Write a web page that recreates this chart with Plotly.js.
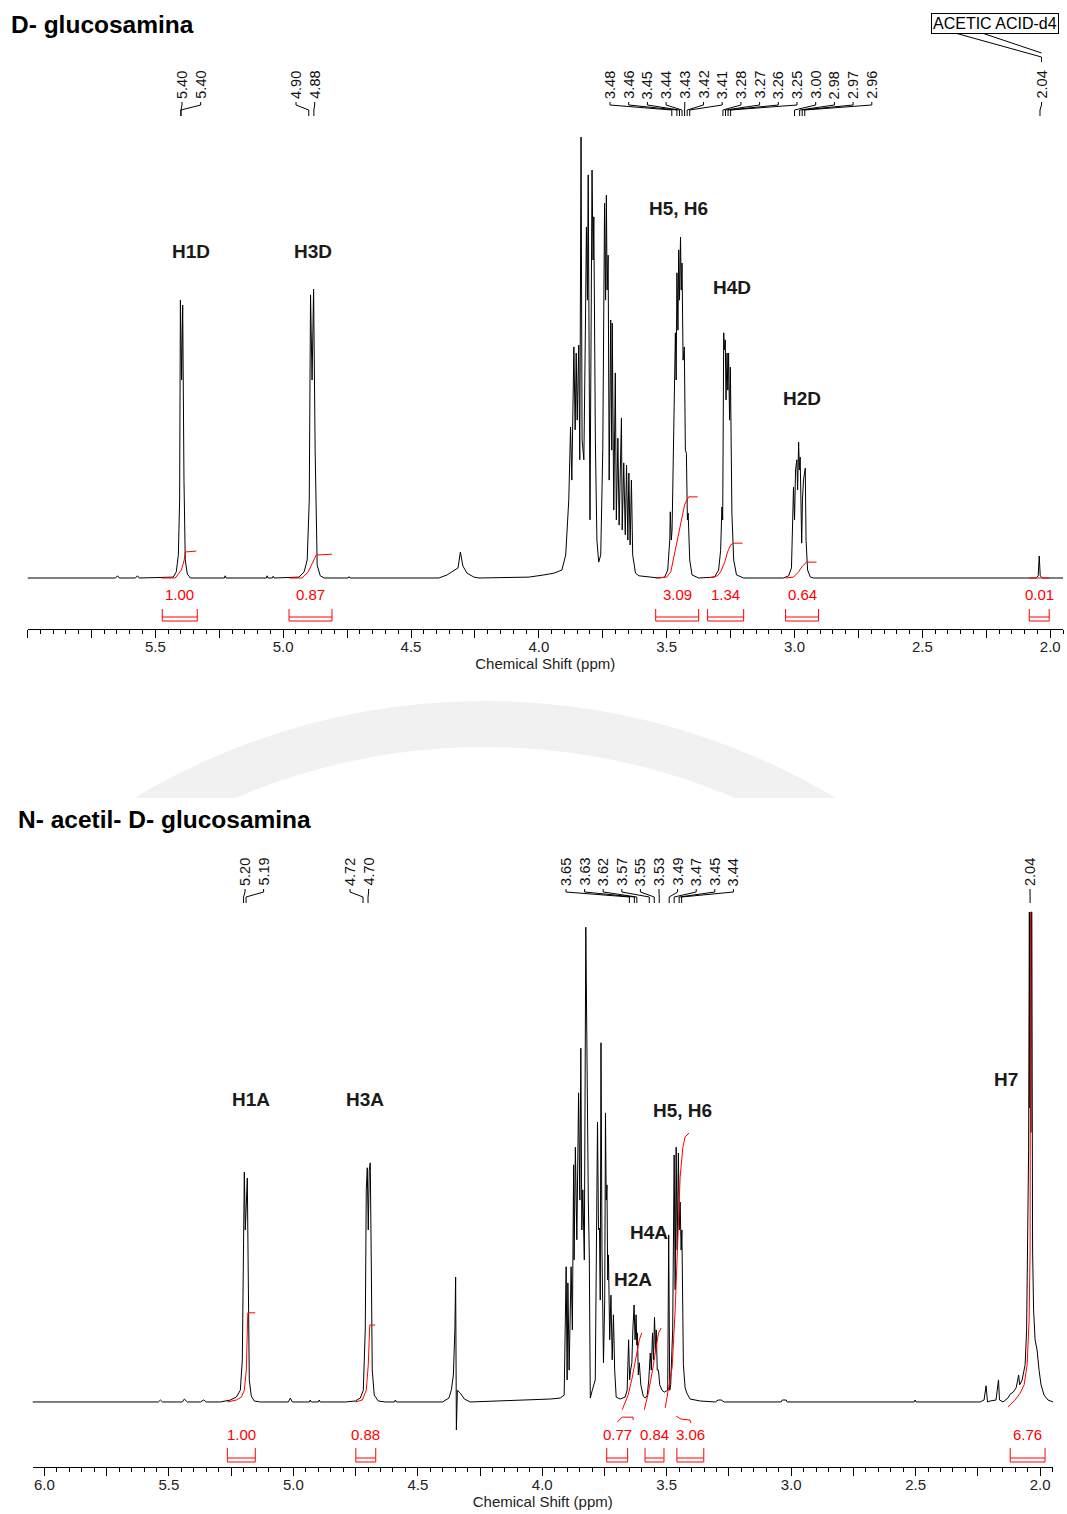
<!DOCTYPE html>
<html><head><meta charset="utf-8">
<script src="https://cdn.plot.ly/plotly-3.0.1.min.js"></script>
<style>html,body{margin:0;padding:0;background:#fff}#chart{width:1067px;height:1514px}</style>
</head><body><div id="chart"></div>
<script>
// ---------------- DATA (ppm, relative intensity %) ----------------
const TOP_TITLE = 'D- glucosamina';
const BOT_TITLE = 'N- acetil- D- glucosamina';

const TOP_SPECTRUM = [
[6.00,0],[5.656,0],[5.648,0.5],[5.641,0],[5.578,0],[5.570,0.5],[5.563,0],
[5.430,0.2],[5.418,1.4],[5.410,5.2],[5.405,17.7],[5.402,63.0],[5.397,44.9],[5.393,61.9],[5.388,22.2],[5.383,4.1],[5.375,0.9],[5.363,0],
[5.230,0],[5.227,0.5],[5.223,0],[5.066,0],[5.063,0.5],[5.059,0],[5.043,0],[5.039,0.4],[5.035,0],
[4.938,0.2],[4.918,1.4],[4.906,4.1],[4.898,17.7],[4.893,64.2],[4.887,44.9],[4.881,65.5],[4.875,29.0],[4.867,2.9],[4.855,0.5],[4.840,0],
[4.746,0],[4.742,0.3],[4.738,0],
[4.391,0],[4.359,0.7],[4.332,1.6],[4.316,2.3],[4.307,5.9],[4.297,2.7],[4.281,1.1],[4.254,0.2],[4.234,0],
[4.039,0.2],[3.980,0.7],[3.941,1.1],[3.910,1.8],[3.895,5.2],[3.883,17.7],
[3.876,34.2],[3.871,22.2],[3.863,52.4],[3.858,33.6],[3.854,51.0],[3.850,35.8],[3.844,52.8],[3.840,26.8],[3.835,100],[3.831,31.3],[3.824,26.8],[3.818,56.2],[3.814,79.6],[3.810,63.0],[3.807,91.4],[3.800,13.2],[3.792,92.5],[3.788,72.1],[3.785,81.9],[3.779,31.3],[3.773,8.6],[3.766,3.6],[3.758,5.2],[3.750,29.0],[3.743,85.0],[3.739,63.0],[3.736,86.8],[3.733,65.3],[3.729,73.2],[3.725,22.2],[3.719,58.5],[3.715,29.0],[3.713,57.8],[3.707,15.4],[3.701,46.5],[3.697,13.2],[3.691,31.7],[3.686,12.0],[3.677,36.3],[3.674,10.9],[3.668,26.1],[3.662,9.8],[3.657,25.6],[3.652,8.6],[3.648,23.8],[3.643,7.5],[3.638,22.2],[3.633,5.2],[3.622,1.1],[3.609,0.5],[3.570,0.2],[3.531,0],
[3.508,0.2],[3.496,1.8],[3.488,8.6],[3.486,15.0],[3.482,8.6],[3.479,10.9],[3.475,24.5],[3.471,40.4],[3.466,55.6],[3.463,44.9],[3.460,69.2],[3.456,56.2],[3.453,74.4],[3.450,63.0],[3.446,77.3],[3.443,65.3],[3.440,71.4],[3.436,49.4],[3.431,52.4],[3.427,29.0],[3.423,28.3],[3.419,13.2],[3.416,14.7],[3.410,4.1],[3.401,0.7],[3.375,0],
[3.313,0.2],[3.297,1.8],[3.289,6.3],[3.284,16.1],[3.281,13.2],[3.277,55.6],[3.274,51.7],[3.271,54.0],[3.268,40.4],[3.264,51.0],[3.261,42.6],[3.258,51.0],[3.254,35.8],[3.251,47.8],[3.248,24.5],[3.245,14.7],[3.238,4.1],[3.227,0.7],[3.199,0],
[3.043,0],[3.023,0.5],[3.012,2.3],[3.004,20.6],[3.000,13.2],[2.996,24.5],[2.991,26.8],[2.988,20.0],[2.984,30.8],[2.981,24.5],[2.978,27.4],[2.975,17.7],[2.972,7.9],[2.969,17.7],[2.965,22.2],[2.958,24.9],[2.955,8.6],[2.949,1.8],[2.938,0.2],[2.926,0],
[2.055,0],[2.047,0.5],[2.043,5.0],[2.039,0.5],[2.031,0],[1.95,0]
];

const BOT_SPECTRUM = [
[6.048,0],[5.542,0],[5.534,0.4],[5.526,0],[5.446,0],[5.438,0.6],[5.426,0],[5.373,0],[5.361,0.4],[5.349,0],[5.293,0],
[5.253,0.4],[5.229,1.0],[5.213,2.4],[5.205,8.6],[5.201,31.0],[5.197,46.9],[5.193,35.1],[5.189,43.3],[5.185,45.7],[5.181,24.9],[5.177,4.5],[5.169,1.2],[5.157,0.2],[5.133,0],
[5.020,0],[5.012,0.8],[5.004,0],[4.936,0],[4.932,0.4],[4.928,0],[4.900,0],[4.896,0.4],[4.892,0],
[4.791,0],[4.751,0.2],[4.731,0.8],[4.719,2.4],[4.711,14.7],[4.707,43.3],[4.703,47.8],[4.699,35.1],[4.695,47.3],[4.691,48.8],[4.687,29.0],[4.683,6.5],[4.675,1.4],[4.659,0.2],[4.631,0],
[4.594,0],[4.590,0.4],[4.586,0],
[4.400,0],[4.375,0.8],[4.365,2.5],[4.357,5.5],[4.351,14.7],[4.348,25.5],[4.345,-5.7],[4.341,2.4],[4.329,1.8],[4.313,0.6],[4.289,0],
[4.169,0.2],[4.048,0.4],[3.968,0.6],[3.928,0.8],
[3.912,1.4],[3.904,27.6],[3.900,4.5],[3.897,24.3],[3.892,6.5],[3.884,27.6],[3.879,14.7],[3.874,48.4],[3.872,29.0],[3.867,52.0],[3.861,33.1],[3.854,63.1],[3.849,41.2],[3.845,72.2],[3.841,35.1],[3.837,43.3],[3.831,29.0],[3.825,96.9],[3.823,82.0],[3.821,87.1],[3.815,41.2],[3.811,30.0],
[3.807,0.8],[3.799,2.4],[3.787,4.5],[3.778,57.1],[3.774,35.1],[3.770,35.5],[3.767,20.8],[3.764,73.3],[3.760,31.0],[3.754,8.0],[3.749,20.8],[3.746,59.0],[3.743,41.2],[3.740,44.3],[3.737,24.9],[3.734,30.0],[3.729,12.7],[3.724,21.8],[3.719,8.6],[3.714,17.8],[3.709,6.5],[3.703,1.0],[3.687,0.6],[3.667,1.0],
[3.659,2.4],[3.653,12.7],[3.649,4.5],[3.645,6.5],[3.640,8.0],[3.636,14.7],[3.631,19.8],[3.627,12.7],[3.623,17.8],[3.620,11.6],[3.618,14.1],[3.614,5.5],[3.610,8.0],[3.604,3.5],[3.594,1.2],[3.586,0.8],
[3.578,1.4],[3.572,4.5],[3.566,10.0],[3.562,6.5],[3.557,14.1],[3.553,8.6],[3.549,17.3],[3.545,10.6],[3.542,14.7],[3.538,6.5],[3.533,6.5],[3.528,3.5],[3.519,2.4],[3.510,2.0],
[3.496,2.4],[3.492,34.1],[3.488,2.4],
[3.484,3.5],[3.479,10.6],[3.476,14.7],[3.470,50.4],[3.466,22.9],[3.462,52.0],[3.458,31.0],[3.453,50.8],[3.449,35.1],[3.446,40.8],[3.442,31.0],[3.439,35.1],[3.436,16.7],[3.433,7.6],[3.426,2.9],[3.419,1.8],[3.406,0.6],[3.365,0.2],[3.305,0],[3.293,0.4],[3.281,0.4],[3.269,0],
[3.040,0],[3.036,0.4],[3.020,0.4],[3.016,0],
[2.506,0],[2.502,0.4],[2.498,0],
[2.241,0],[2.225,0.4],[2.217,3.3],[2.211,0],[2.201,0.2],[2.177,0.4],[2.167,4.5],[2.163,0.4],[2.149,0],[2.129,0.8],[2.120,1.6],[2.108,2.0],[2.096,2.9],[2.086,5.5],[2.082,3.5],[2.072,4.5],[2.060,7.6],[2.054,14.7],[2.049,32.0],[2.046,51.4],
[2.043,100],[2.041,60],[2.039,99],[2.037,55],[2.035,100],[2.033,100],[2.030,31.0],[2.026,18.8],[2.020,12.7],[2.012,10.6],[2.004,6.5],[1.996,3.5],[1.984,1.4],[1.968,0.4],[1.948,0]
];

// integral curves (ppm, relative intensity)
const TOP_INTEGRAL_CURVES = [
[[5.477,0],[5.422,0],[5.398,1.8],[5.387,4.1],[5.383,5.9],[5.340,6.1]],
[[4.977,0],[4.926,0],[4.902,1.4],[4.883,3.6],[4.871,5.2],[4.809,5.4]],
[[3.543,0],[3.500,0.2],[3.484,1.4],[3.466,6.3],[3.453,9.8],[3.440,13.8],[3.430,16.6],[3.421,17.7],[3.414,18.4],[3.379,18.4]],
[[3.336,0],[3.301,0.5],[3.289,1.4],[3.273,3.6],[3.262,5.9],[3.250,7.5],[3.238,7.9],[3.203,7.9]],
[[3.035,0],[3.004,0.2],[2.984,1.4],[2.969,2.7],[2.953,3.6],[2.914,3.6]],
[[2.082,0],[2.004,0]]
];
const BOT_INTEGRAL_CURVES = [
[[5.265,0],[5.229,0.4],[5.209,1.0],[5.197,2.4],[5.189,6.5],[5.185,12.7],[5.183,18.2],[5.153,18.2]],
[[4.751,0],[4.723,0.4],[4.707,2.4],[4.699,7.6],[4.693,15.7],[4.671,15.7]],
[[3.679,-1.6],[3.655,1.4],[3.639,4.9],[3.623,9.0],[3.610,12.7],[3.600,14.1]],
[[3.590,-1.6],[3.574,1.8],[3.557,6.5],[3.542,11.6],[3.533,14.1],[3.522,15.1]],
[[3.506,-1.2],[3.490,3.5],[3.478,7.1],[3.466,18.8],[3.453,34.5],[3.446,45.9],[3.435,52.0],[3.426,54.1],[3.410,54.9]],
[[2.129,-1.0],[2.100,0.4],[2.080,1.8],[2.064,3.5],[2.052,7.6],[2.044,16.7],[2.040,31.0],[2.038,100]],
[[3.699,-4.1],[3.679,-3.1],[3.635,-3.1],[3.635,-3.7]],
[[3.462,-2.9],[3.442,-3.5],[3.406,-3.7],[3.402,-4.3]]
];

// integral regions
const TOP_INT_START = [5.473, 4.977, 3.543, 3.340, 3.035, 2.082];
const TOP_INT_END   = [5.336, 4.809, 3.375, 3.199, 2.906, 2.004];
const TOP_INT_VALUE = ['1.00', '0.87', '3.09', '1.34', '0.64', '0.01'];
const BOT_INT_START = [5.265, 4.749, 3.741, 3.587, 3.459, 2.120];
const BOT_INT_END   = [5.153, 4.669, 3.657, 3.511, 3.351, 1.980];
const BOT_INT_VALUE = ['1.00', '0.88', '0.77', '0.84', '3.06', '6.76'];

// picked peaks (labels)
const TOP_PEAK_GROUPS = [[5.40,5.40],[4.90,4.88],[3.48,3.46,3.45,3.44,3.43,3.42,3.41,3.28,3.27,3.26,3.25,3.00,2.98,2.97,2.96],[2.04]];
const BOT_PEAK_GROUPS = [[5.20,5.19],[4.72,4.70],[3.65,3.63,3.62,3.57,3.55,3.53,3.49,3.47,3.45,3.44],[2.04]];

// assignments
const TOP_ASSIGN_TEXT = ['H1D','H3D','H5, H6','H4D','H2D'];
const TOP_ASSIGN_PPM  = [5.359, 4.883, 3.453, 3.246, 2.969];
const TOP_ASSIGN_INT  = [74.1, 74.1, 83.7, 65.8, 40.8];
const BOT_ASSIGN_TEXT = ['H1A','H3A','H5, H6','H4A','H2A','H7'];
const BOT_ASSIGN_PPM  = [5.169, 4.711, 3.438, 3.570, 3.635, 2.137];
const BOT_ASSIGN_INT  = [61.8, 61.8, 59.4, 34.5, 24.9, 65.9];

const TICK_VALS = [2.0,2.25,2.5,2.75,3.0,3.25,3.5,3.75,4.0,4.25,4.5,4.75,5.0,5.25,5.5,5.75,6.0];
const TOP_TICK_TEXT = ['2.0','','2.5','','3.0','','3.5','','4.0','','4.5','','5.0','','5.5','',''];
const BOT_TICK_TEXT = ['2.0','','2.5','','3.0','','3.5','','4.0','','4.5','','5.0','','5.5','','6.0'];

// ---------------- LAYOUT ----------------
const W = 1067, H = 1514;
const FONT = 'Liberation Sans, Arial, sans-serif';
const py = p => 1 - p / H;
const px = p => p / W;

const PANELS = {
  top: { xPx:[27.5,1063], xRange:[6.0,1.95], yPx:[60,629], yRange:[-11.565,117.46],
         labelFirstPx:[182,296,610,1041.5], labelStep:18.7,
         lblBottom:101, con:[102,105,110,116], intNum:595, br:[609,617,621] },
  bot: { xPx:[32.5,1053], xRange:[6.048,1.948], yPx:[850,1467], yRange:[-13.27,112.65],
         labelFirstPx:[245,350,566,1030], labelStep:18.6,
         lblBottom:888, con:[889,892,897,903], intNum:1434, br:[1448,1458,1462] }
};
function pxToPpm(P, p) {
  return P.xRange[0] - (p - P.xPx[0]) / (P.xPx[1] - P.xPx[0]) * (P.xRange[0] - P.xRange[1]);
}

const traces = [];
function addLine(pairs, xa, ya, color) {
  traces.push({ x: pairs.map(p => p[0]), y: pairs.map(p => p[1]), xaxis: xa, yaxis: ya,
    type: 'scatter', mode: 'lines', line: { color: color, width: 1 }, hoverinfo: 'skip', showlegend: false });
}
addLine(TOP_SPECTRUM, 'x', 'y', '#000');
addLine(BOT_SPECTRUM, 'x2', 'y2', '#000');
TOP_INTEGRAL_CURVES.forEach(c => addLine(c, 'x', 'y', '#ff0000'));
BOT_INTEGRAL_CURVES.forEach(c => addLine(c, 'x2', 'y2', '#ff0000'));

const annotations = [];
const shapes = [];

// faint watermark seal between the panels (decorative)
shapes.push({ type: 'circle', xref: 'paper', yref: 'paper', layer: 'below',
  x0: px(485 - 660), x1: px(485 + 660), y0: py(1384 + 660), y1: py(1384 - 660),
  line: { color: '#f1f1f1', width: 46 } });
shapes.push({ type: 'circle', xref: 'paper', yref: 'paper', layer: 'below',
  x0: px(485 - 570), x1: px(485 + 570), y0: py(1384 + 570), y1: py(1384 - 570),
  line: { color: '#f4f4f4', width: 18 } });
shapes.push({ type: 'rect', xref: 'paper', yref: 'paper', layer: 'below',
  x0: 0, x1: 1, y0: 0, y1: py(798), line: { width: 0 }, fillcolor: '#fff' });

function panelDecor(P, xref, yref, groups, intS, intE, intV, aText, aPpm, aInt) {
  groups.forEach((g, gi) => {
    g.forEach((v, i) => {
      const lp = pxToPpm(P, P.labelFirstPx[gi] + i * P.labelStep);
      annotations.push({ xref: xref, yref: 'paper', x: lp, y: py(P.lblBottom), text: v.toFixed(2),
        textangle: -90, showarrow: false, xanchor: 'center', yanchor: 'bottom',
        font: { family: FONT, size: 14.5, color: '#111' } });
      const c = P.con;
      shapes.push({ type: 'path', xref: xref, yref: 'paper',
        path: `M ${lp},${py(c[0])} L ${lp},${py(c[1])} L ${v},${py(c[2])} L ${v},${py(c[3])}`,
        line: { color: '#000', width: 1 } });
    });
  });
  intS.forEach((s, i) => {
    const e = intE[i], b = P.br;
    shapes.push({ type: 'path', xref: xref, yref: 'paper',
      path: `M ${s},${py(b[0])} L ${s},${py(b[2])} L ${e},${py(b[2])} L ${e},${py(b[0])}`,
      line: { color: '#ff0000', width: 1 } });
    shapes.push({ type: 'line', xref: xref, yref: 'paper', x0: s, x1: e, y0: py(b[1]), y1: py(b[1]),
      line: { color: '#ff0000', width: 1 } });
    annotations.push({ xref: xref, yref: 'paper', x: (s + e) / 2, y: py(P.intNum), text: intV[i],
      showarrow: false, xanchor: 'center', yanchor: 'middle',
      font: { family: FONT, size: 15, color: '#ff0000' } });
  });
  aText.forEach((t, i) => {
    annotations.push({ xref: xref, yref: yref, x: aPpm[i], y: aInt[i], text: '<b>' + t + '</b>',
      showarrow: false, xanchor: 'center', yanchor: 'middle',
      font: { family: FONT, size: 19, color: '#1a1a1a' } });
  });
}
panelDecor(PANELS.top, 'x', 'y', TOP_PEAK_GROUPS, TOP_INT_START, TOP_INT_END, TOP_INT_VALUE, TOP_ASSIGN_TEXT, TOP_ASSIGN_PPM, TOP_ASSIGN_INT);
panelDecor(PANELS.bot, 'x2', 'y2', BOT_PEAK_GROUPS, BOT_INT_START, BOT_INT_END, BOT_INT_VALUE, BOT_ASSIGN_TEXT, BOT_ASSIGN_PPM, BOT_ASSIGN_INT);

annotations.push({ xref: 'paper', yref: 'paper', x: px(9), y: py(25), text: '<b>' + TOP_TITLE + '</b>',
  showarrow: false, xanchor: 'left', yanchor: 'middle', font: { family: FONT, size: 24.5, color: '#000' } });
annotations.push({ xref: 'paper', yref: 'paper', x: px(16), y: py(820), text: '<b>' + BOT_TITLE + '</b>',
  showarrow: false, xanchor: 'left', yanchor: 'middle', font: { family: FONT, size: 24.5, color: '#000' } });

annotations.push({ xref: 'paper', yref: 'paper', x: px(994.5), y: py(23), text: 'ACETIC ACID-d4',
  showarrow: false, xanchor: 'center', yanchor: 'middle', bordercolor: '#000', borderwidth: 1, borderpad: 1,
  bgcolor: '#fff', font: { family: FONT, size: 16, color: '#000' } });
shapes.push({ type: 'path', xref: 'paper', yref: 'paper',
  path: `M ${px(955)},${py(33)} L ${px(1041.5)},${py(57)} L ${px(1041.5)},${py(62)}`, line: { color: '#000', width: 1 } });
shapes.push({ type: 'path', xref: 'paper', yref: 'paper',
  path: `M ${px(982)},${py(33)} L ${px(1041.5)},${py(53)}`, line: { color: '#000', width: 1 } });

function xAxis(P, anchor, tickText) {
  return {
    domain: [px(P.xPx[0]), px(P.xPx[1])], range: P.xRange, anchor: anchor,
    showline: true, linecolor: '#000', linewidth: 1, mirror: false,
    ticks: 'outside', ticklen: 8, tickwidth: 1, tickcolor: '#000',
    tickmode: 'array', tickvals: TICK_VALS, ticktext: tickText, ticklabelstandoff: -4,
    tickfont: { family: FONT, size: 15, color: '#222' },
    minor: { tickmode: 'linear', tick0: 2.0, dtick: 0.05, ticks: 'outside', ticklen: 4, tickwidth: 1, tickcolor: '#000', showgrid: false },
    showgrid: false, zeroline: false, fixedrange: true,
    title: { text: 'Chemical Shift (ppm)', font: { family: FONT, size: 15, color: '#222' }, standoff: 0 }
  };
}
function yAxis(P, anchor) {
  return { domain: [py(P.yPx[1]), py(P.yPx[0])], range: P.yRange, anchor: anchor,
    visible: false, showgrid: false, zeroline: false, fixedrange: true };
}

const layout = {
  width: W, height: H, margin: { l: 0, r: 0, t: 0, b: 0 },
  paper_bgcolor: '#fff', plot_bgcolor: 'rgba(0,0,0,0)', showlegend: false,
  font: { family: FONT },
  xaxis: xAxis(PANELS.top, 'y', TOP_TICK_TEXT),
  yaxis: yAxis(PANELS.top, 'x'),
  xaxis2: xAxis(PANELS.bot, 'y2', BOT_TICK_TEXT),
  yaxis2: yAxis(PANELS.bot, 'x2'),
  annotations: annotations, shapes: shapes
};

Plotly.newPlot('chart', traces, layout, { staticPlot: true, displayModeBar: false });
</script></body></html>
